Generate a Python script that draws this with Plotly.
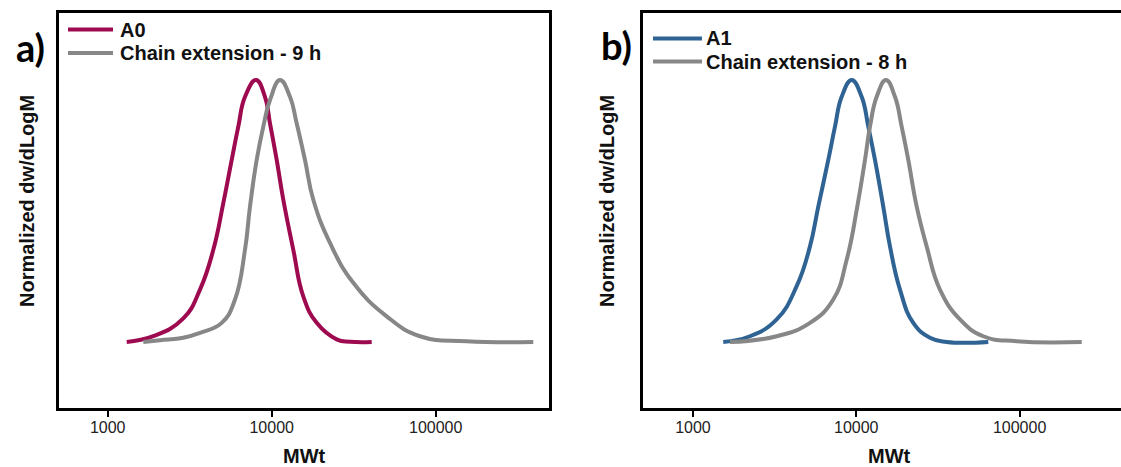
import plotly.graph_objects as go

W, H = 1121, 467

# ---- data (molecular weight, normalized dw/dLogM) ----
a0_mw = [1306, 1897, 2891, 3654, 4405, 5069, 5704, 6256, 6873, 8024, 9102, 9763,
         10728, 11771, 13544, 15584, 18811, 24904, 30020, 40720]
a0_w = [0.0, 0.022, 0.090, 0.200, 0.352, 0.530, 0.695, 0.822, 0.936, 1.0, 0.936, 0.835,
        0.695, 0.543, 0.352, 0.174, 0.073, 0.010, 0.001, 0.0]

ce9_mw = [1648, 2084, 2891, 3654, 4956, 5974, 6873, 7374, 8100, 8888, 9763, 11236, 12929,
          14203, 15959, 17937, 22672, 31450, 50260, 80220, 154500, 393700]
ce9_w = [0.0, 0.007, 0.016, 0.035, 0.073, 0.162, 0.352, 0.517, 0.695, 0.822, 0.924, 1.0, 0.936,
         0.835, 0.695, 0.543, 0.378, 0.226, 0.098, 0.022, 0.003, 0.0]

a1_mw = [1533, 2234, 3255, 4315, 5205, 5852, 6738, 7406, 8139, 9372, 10792, 11845, 13016,
         14632, 16084, 18519, 22336, 28268, 35776, 64320]
a1_w = [0.0, 0.022, 0.086, 0.213, 0.365, 0.517, 0.695, 0.822, 0.936, 1.0, 0.936, 0.822, 0.695,
        0.517, 0.365, 0.200, 0.073, 0.016, 0.0, 0.0]

ce8_mw = [1685, 3255, 5205, 7229, 8734, 10141, 11304, 12131, 13332, 15202, 17258, 18967,
          20816, 23442, 26980, 32540, 43150, 59940, 95990, 240100]
ce8_w = [0.0, 0.022, 0.073, 0.162, 0.314, 0.517, 0.695, 0.822, 0.936, 1.0, 0.936, 0.822,
         0.695, 0.517, 0.365, 0.200, 0.086, 0.022, 0.003, 0.0]

tick_vals = [1000, 10000, 100000]
tick_text = ["1000", "10000", "100000"]

legend_a = ["A0", "Chain extension - 9 h"]
legend_b = ["A1", "Chain extension - 8 h"]
panel_labels = ["a)", "b)"]
x_title = "MWt"
y_title = "Normalized dw/dLogM"

C_A0 = "#9E0A4F"
C_A1 = "#2F6394"
C_GRAY = "#878787"


def px(x):
    return x / W


def py(y):
    return (H - y) / H


fig = go.Figure()
LW = 4
for xs, ys, col, xa, ya in ((a0_mw, a0_w, C_A0, "x", "y"), (ce9_mw, ce9_w, C_GRAY, "x", "y"),
                            (a1_mw, a1_w, C_A1, "x2", "y2"), (ce8_mw, ce8_w, C_GRAY, "x2", "y2")):
    fig.add_trace(go.Scatter(x=xs, y=ys, mode="lines",
                             line=dict(color=col, width=LW, shape="spline", smoothing=1.3),
                             xaxis=xa, yaxis=ya, showlegend=False))

tickfont = dict(family="Arial, Liberation Sans", size=16, color="#222222")
xcommon = dict(type="log", tickmode="array", tickvals=tick_vals, ticktext=tick_text,
               ticks="outside", ticklen=6, tickwidth=2, tickcolor="#000",
               showline=True, linewidth=3, linecolor="#000", mirror=True,
               showgrid=False, zeroline=False, tickfont=tickfont, ticklabelstandoff=-3)
ycommon = dict(range=[-0.252, 1.256], showticklabels=False, ticks="", showgrid=False,
               zeroline=False, showline=True, linewidth=3, linecolor="#000")

ydom = [py(408), py(13)]
fig.update_layout(
    width=W, height=H, margin=dict(l=0, r=0, t=0, b=0),
    paper_bgcolor="white", plot_bgcolor="white",
    xaxis=dict(domain=[px(59), px(549)], range=[2.703, 5.691], anchor="y", **xcommon),
    yaxis=dict(domain=ydom, anchor="x", mirror=True, **ycommon),
    xaxis2=dict(domain=[px(643), 1.0], range=[2.694, 5.621], anchor="y2", **xcommon),
    yaxis2=dict(domain=ydom, anchor="x2", mirror=False, **ycommon),
)

ann = []
bold = dict(family="Arial, Liberation Sans", size=20, color="#111111")
for cx in (304, 889):
    ann.append(dict(x=px(cx), y=py(456), xref="paper", yref="paper", text="<b>%s</b>" % x_title,
                    showarrow=False, font=bold, xanchor="center", yanchor="middle"))
for cx in (27, 607):
    ann.append(dict(x=px(cx), y=py(201), xref="paper", yref="paper", text="<b>%s</b>" % y_title,
                    showarrow=False, font=bold, textangle=-90, xanchor="center", yanchor="middle"))
for lab, cx, cy in zip(panel_labels, (30, 616), (47, 45)):
    ann.append(dict(x=px(cx), y=py(cy), xref="paper", yref="paper", text="<b>%s</b>" % lab,
                    showarrow=False, font=dict(family="Lato", size=38, color="#000"),
                    xanchor="center", yanchor="middle"))

shapes = []
legfont = dict(family="Arial, Liberation Sans", size=20, color="#111111")
for names, colors, x0, x1, xt, ys in (
        (legend_a, (C_A0, C_GRAY), 68, 113, 118, (29.5, 53)),
        (legend_b, (C_A1, C_GRAY), 653, 702, 704, (38.5, 61.5))):
    for nm, col, yy in zip(names, colors, ys):
        shapes.append(dict(type="line", xref="paper", yref="paper", x0=px(x0), x1=px(x1),
                           y0=py(yy), y1=py(yy), line=dict(color=col, width=4)))
        ann.append(dict(x=px(xt), y=py(yy), xref="paper", yref="paper", text="<b>%s</b>" % nm,
                        showarrow=False, font=legfont, xanchor="left", yanchor="middle"))

fig.update_layout(annotations=ann, shapes=shapes)
fig.write_html("out.html")
